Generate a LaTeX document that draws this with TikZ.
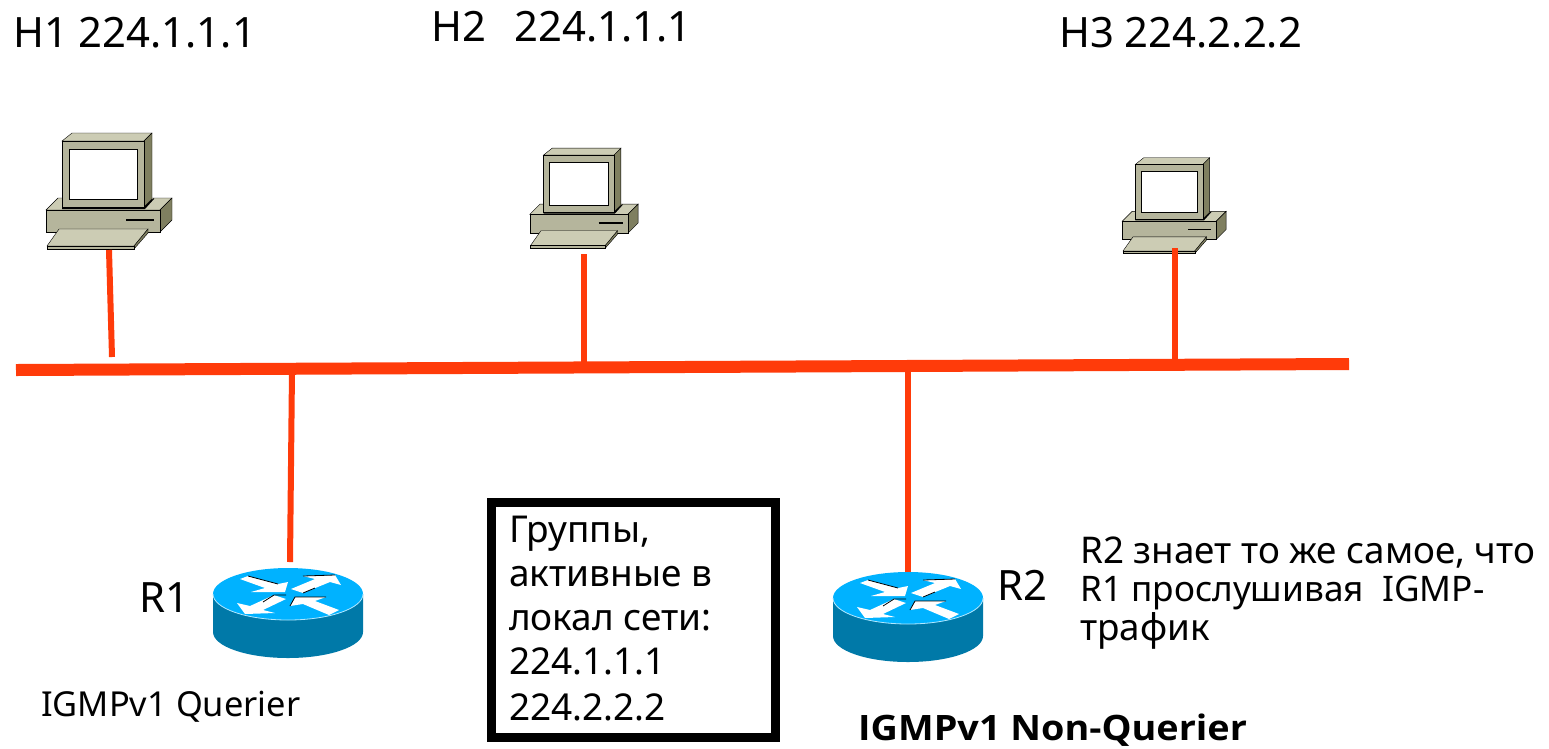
\documentclass[tikz,border=0pt]{standalone}
\usepackage{fontspec}
\setmainfont{Noto Sans}
\newfontfamily\boldlabel{Open Sans}
\usepackage{tikz}
\usetikzlibrary{positioning}
\definecolor{pcfront}{HTML}{B5B59C}
\definecolor{pctop}{HTML}{CCCCB4}
\definecolor{pcside}{HTML}{7F7F60}
\definecolor{pcedge}{HTML}{55553F}
\definecolor{rtop}{HTML}{00B2FF}
\definecolor{rside}{HTML}{0079A8}
\definecolor{redline}{HTML}{FF3B0A}
\tikzset{
  pchost/.pic = {
    \tikzset{draw=pcedge, line width=1.2pt, line join=round}
    % base
    \filldraw[fill=pctop] (16,90) -- (28,78) -- (142,78) -- (130,90) -- cycle;
    \filldraw[fill=pcside] (130,90) -- (142,78) -- (142,100) -- (130,112) -- cycle;
    \filldraw[fill=pcfront] (16,90) rectangle (130,112);
    \draw[black, line width=1.6pt] (96,100) -- (124,100);
    % monitor
    \fill[black] (32,85) -- (115,85) -- (124,78) -- (124,79) -- (115,89) -- (32,89) -- cycle;
    \filldraw[fill=pctop] (32,21) -- (42,13) -- (122,13) -- (114,21) -- cycle;
    \filldraw[fill=pcside] (114,21) -- (122,13) -- (122,79) -- (114,87) -- cycle;
    \filldraw[fill=pcfront] (32,21) rectangle (114,87);
    \filldraw[fill=white] (39,29) rectangle (107,79);
    % keyboard
    \filldraw[fill=pctop] (17,126) -- (29,109) -- (118,109) -- (104,126) -- cycle;
    \filldraw[fill=pcside] (104,126) -- (118,109) -- (118,113) -- (104,129) -- cycle;
    \filldraw[fill=pcfront] (17,126) rectangle (104,129);
  },
  router/.pic = {
    \fill[rside] (-75,0) -- (-75,38) arc[start angle=180, end angle=360, x radius=75, y radius=-26]
      -- (75,0) -- cycle;
    \fill[rtop] (0,0) ellipse[x radius=75, y radius=26];
    \draw[white!70!rtop, line width=.8pt] (-75,0) arc[start angle=180, end angle=360, x radius=75, y radius=-26];
    \fill[white] (-48,-15) -- (-40,-18) -- (-10,-10) -- (0,-12) -- (-3,-2) -- (-37,-2) -- (-23,-6) -- cycle;
    \fill[white] (3,-5) -- (27,-15) -- (15,-18) -- (47,-19) -- (53,-9) -- (42,-12) -- (15,-1) -- cycle;
    \fill[white] (-2,5) -- (-25,16) -- (-13,19) -- (-43,20) -- (-51,9) -- (-38,12) -- (-14,1) -- cycle;
    \fill[white] (2,12) -- (7,3) -- (38,3) -- (27,7) -- (51,16) -- (41,21) -- (15,10) -- cycle;
    \draw[black, line width=.8pt] (-40,-18) -- (-10,-10) (15,-1) -- (27,-6) (15,-18) -- (47,-19)
      (-25,8) -- (-14,1) -- (-2,1) (2,12) -- (7,3) -- (38,3);
  },
  lbl/.style = {inner sep=0pt, anchor=base west, font=\fontsize{37}{44}\selectfont},
  lblhost/.style = {lbl, font=\fontsize{41.8}{48}\selectfont},
  lblnote/.style = {lbl, font=\fontsize{36.8}{44}\selectfont},
  lblnotetwo/.style = {lbl, font=\fontsize{35.2}{44}\selectfont},
  lblrole/.style = {lbl, font=\fontsize{34.4}{40}\selectfont},
  lblbold/.style = {lbl, xscale=1.08, font=\boldlabel\bfseries\fontsize{35}{40}\selectfont},
  tap/.style = {draw=redline, line width=6pt},
  bus/.style = {draw=redline, line width=12pt},
}
\begin{document}
\begin{tikzpicture}[x=1pt, y=-1pt]
\useasboundingbox (0,0) rectangle (1549,748);

\pic at (30,120) {pchost};
\pic[scale=.86] at (516,137) {pchost};
\pic[scale=.825] at (1109,147) {pchost};
\pic at (288,594) {router};
\pic at (908,598) {router};

\coordinate (h1) at (109,250);
\coordinate (h2) at (584,254);
\coordinate (h3) at (1175,248);
\coordinate (r1) at (290,562);
\coordinate (r2) at (908,572);
\coordinate (busl) at (16,370);
\coordinate (busr) at (1349,364);
\coordinate (taph1) at (112,357);
\coordinate (taph2) at (584,362);
\coordinate (taph3) at (1175,360);
\coordinate (tapr1) at (292,370);
\coordinate (tapr2) at (908,366);

\draw[tap] (h1) -- (taph1);
\draw[tap] (h2) -- (taph2);
\draw[tap] (h3) -- (taph3);
\draw[tap] (r1) -- (tapr1);
\draw[tap] (r2) -- (tapr2);
\draw[bus] (busl) -- (busr);

\node[lblhost] (nameh1) at (13,47) {H1 224.1.1.1};
\node[lblhost] (nameh2) at (431,41) {H2\ \ \,224.1.1.1};
\node[lblhost] (nameh3) at (1059,47) {H3 224.2.2.2};
\node[lblhost] (namer1) at (139,612) {R1};
\node[lblhost] (namer2) at (997,600) {R2};
\node[lblrole] (roler1) at (41,716) {IGMPv1 Querier};
\node[lblbold] (roler2) at (858,740) {IGMPv1 Non-Querier};

\node[lblnote] (note1) at (1080,563) {R2 знает то же самое, что};
\node[lblnotetwo] (note2) at (1080,601) {R1 прослушивая\ \ IGMP-};
\node[lblnote] (note3) at (1080,640) {трафик};

\draw[line width=9pt] (491,502) rectangle (775,737);
\node[lbl] (grp1) at (509,542) {Группы,};
\node[lbl] (grp2) at (509,586) {активные в};
\node[lbl] (grp3) at (509,630) {локал сети:};
\node[lbl] (grp4) at (509,674) {224.1.1.1};
\node[lbl] (grp5) at (509,720) {224.2.2.2};
\end{tikzpicture}
\end{document}
